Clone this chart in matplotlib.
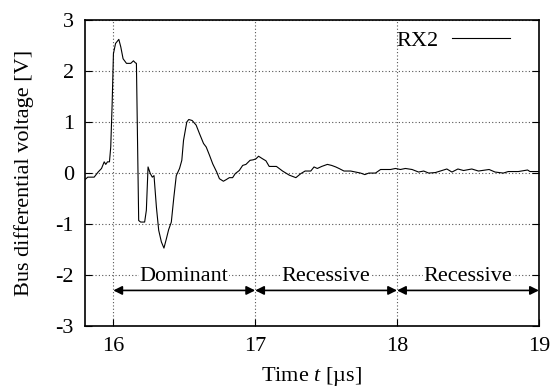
import matplotlib
matplotlib.use("Agg")
import matplotlib.pyplot as plt
import numpy as np

plt.rcParams['font.family'] = ['Liberation Serif', 'DejaVu Serif']
plt.rcParams['mathtext.fontset'] = 'custom'
plt.rcParams['mathtext.rm'] = 'Liberation Serif'
plt.rcParams['mathtext.it'] = 'Liberation Serif:italic'
plt.rcParams['axes.unicode_minus'] = False

# RX2 trace (time in us, voltage in V)
t_us = [15.80, 15.82, 15.865, 15.893, 15.917, 15.936, 15.947, 15.959, 15.973, 15.982,
        15.992, 16.001, 16.016, 16.039, 16.053, 16.069, 16.093, 16.123, 16.142, 16.156,
        16.163, 16.179, 16.193, 16.221, 16.233, 16.245, 16.261, 16.275, 16.287, 16.304,
        16.32, 16.339, 16.357, 16.374, 16.39, 16.409, 16.427, 16.444, 16.467, 16.483,
        16.495, 16.518, 16.532, 16.556, 16.584, 16.608, 16.636, 16.655, 16.678, 16.701,
        16.729, 16.748, 16.776, 16.795, 16.818, 16.841, 16.86, 16.888, 16.912, 16.935,
        16.964, 16.987, 17.006, 17.024, 17.052, 17.076, 17.099, 17.15, 17.193, 17.24,
        17.287, 17.322, 17.352, 17.392, 17.415, 17.438, 17.469, 17.509, 17.539, 17.568,
        17.591, 17.626, 17.673, 17.708, 17.743, 17.773, 17.801, 17.848, 17.884, 17.919,
        17.954, 17.989, 18.024, 18.059, 18.106, 18.152, 18.188, 18.223, 18.27, 18.305,
        18.351, 18.387, 18.429, 18.469, 18.527, 18.574, 18.649, 18.691, 18.749, 18.784,
        18.855, 18.92, 18.937, 19.0]
v_rx2 = [-0.13, -0.08, -0.08, 0.02, 0.09, 0.22, 0.17, 0.22, 0.22, 0.51,
         1.36, 2.34, 2.54, 2.62, 2.47, 2.24, 2.15, 2.15, 2.20, 2.16,
         2.15, -0.93, -0.96, -0.96, -0.73, 0.12, -0.01, -0.08, -0.05, -0.67,
         -1.12, -1.35, -1.47, -1.29, -1.11, -0.96, -0.47, -0.05, 0.09, 0.25,
         0.64, 1.0, 1.05, 1.03, 0.94, 0.77, 0.58, 0.51, 0.35, 0.18,
         0.02, -0.11, -0.16, -0.13, -0.09, -0.09, -0.01, 0.05, 0.15, 0.17,
         0.25, 0.26, 0.28, 0.33, 0.28, 0.24, 0.13, 0.13, 0.04, -0.04,
         -0.09, -0.01, 0.04, 0.04, 0.12, 0.09, 0.13, 0.17, 0.15, 0.12,
         0.09, 0.04, 0.04, 0.02, 0.0, -0.03, 0.0, 0.0, 0.07, 0.07,
         0.07, 0.09, 0.07, 0.09, 0.07, 0.02, 0.04, 0.0, 0.01, 0.04,
         0.08, 0.02, 0.08, 0.05, 0.08, 0.04, 0.07, 0.02, 0.0, 0.03,
         0.03, 0.06, 0.03, 0.03]

# bit periods marked under the trace
bit_names = ['Dominant', 'Recessive', 'Recessive']
bit_start = [16, 17, 18]
bit_end = [17, 18, 19]
arrow_y = -2.3
label_y = -2.02

fig = plt.figure(figsize=(5.55, 3.92), dpi=100)
ax = fig.add_axes([0.153, 0.168, 0.818, 0.781])

ax.plot(t_us, v_rx2, color='black', lw=0.8, label='RX2')

for name, a, b in zip(bit_names, bit_start, bit_end):
    ax.annotate('', xy=(b, arrow_y), xytext=(a, arrow_y),
                arrowprops=dict(arrowstyle='<|-|>', color='black', lw=1.2,
                                shrinkA=0, shrinkB=0, mutation_scale=13))
    ax.text((a + b) / 2, label_y, name, ha='center', va='center', fontsize=16,
            bbox=dict(facecolor='white', edgecolor='none', pad=0.5))

ax.set_xlim(15.8, 19)
ax.set_ylim(-3, 3)
ax.set_xticks([16, 17, 18, 19])
ax.set_yticks([-3, -2, -1, 0, 1, 2, 3])
ax.grid(True, color='#555555', ls=(0, (1, 2)), lw=0.8)
ax.tick_params(direction='in', length=5, labelsize=16, right=True, top=False, pad=8)
for s in ax.spines.values():
    s.set_linewidth(1.2)

ax.set_xlabel('Time $t$ [\u00b5s]', fontsize=16, labelpad=6)
ax.set_ylabel('Bus differential voltage [V]', fontsize=16, labelpad=15)

ax.legend(loc='upper right', frameon=False, markerfirst=False, fontsize=16,
          handlelength=2.6, handletextpad=0.6, borderaxespad=0.2,
          bbox_to_anchor=(0.965, 1.01))

fig.savefig('out.png', dpi=100)
